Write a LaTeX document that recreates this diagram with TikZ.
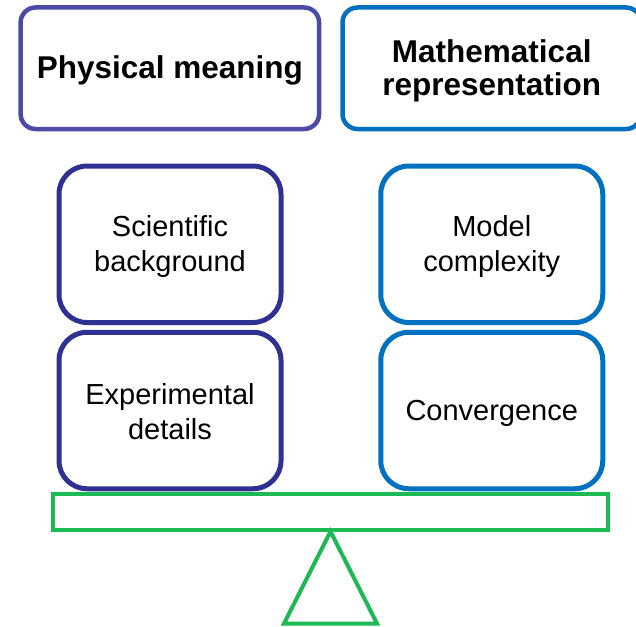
\documentclass[tikz,border=0pt]{standalone}
\usepackage{fontspec}
\setmainfont{Liberation Sans}
\definecolor{titleviolet}{RGB}{75,75,165}
\definecolor{navy}{RGB}{46,49,146}
\definecolor{mblue}{RGB}{0,112,192}
\definecolor{bargreen}{RGB}{29,185,84}
\tikzset{
  titlebox/.style={draw, line width=4.5pt, rounded corners=15pt, inner sep=0pt,
    minimum width=298.5pt, minimum height=121.5pt},
  titletext/.style={align=center, inner sep=0pt,
    font=\fontsize{31.5}{33}\selectfont\bfseries},
  itembox/.style={draw, line width=5pt, rounded corners=28pt, inner sep=0pt,
    minimum width=222pt, minimum height=156.5pt},
  itemtext/.style={align=center, inner sep=0pt,
    font=\fontsize{29}{35}\selectfont},
  greenline/.style={draw=bargreen, line width=4pt}
}
\begin{document}
\begin{tikzpicture}[x=1pt,y=-1pt]
\useasboundingbox (0,0) rectangle (636,626);
\node[titlebox, draw=titleviolet] (phys) at (169.85,68.25) {};
\node[titletext] (physT) at ([yshift=-2.2]phys.center) {Physical meaning};
\node[titlebox, draw=mblue] (math) at (491.75,68.25) {};
\node[titletext] (mathT) at ([yshift=-2.8]math.center) {Mathematical\\representation};
\node[itembox, draw=navy] (sci) at (170,244.25) {};
\node[itemtext] (sciT) at ([yshift=-2.5]sci.center) {Scientific\\background};
\node[itembox, draw=navy] (exp) at (170,410.5) {};
\node[itemtext] (expT) at ([yshift=-1]exp.center) {Experimental\\details};
\node[itembox, draw=mblue] (model) at (491.75,244.25) {};
\node[itemtext] (modelT) at ([yshift=-2.5]model.center) {Model\\complexity};
\node[itembox, draw=mblue] (conv) at (491.75,410.5) {};
\node[itemtext] (convT) at ([yshift=-2.5]conv.center) {Convergence};
\node[greenline, inner sep=0pt, minimum width=555pt, minimum height=35.5pt] (bar) at (330.5,511.75) {};
\draw[greenline, line join=miter] (bar.south) -- ++(-46.5,92) -- ++(93,0) -- cycle;
\end{tikzpicture}
\end{document}
